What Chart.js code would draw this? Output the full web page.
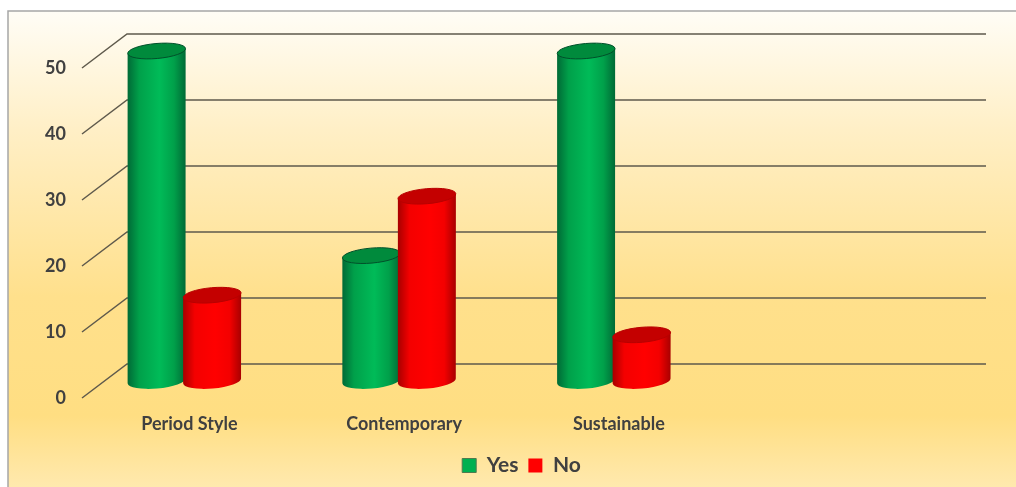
<!DOCTYPE html>
<html>
<head>
<meta charset="utf-8">
<style>
	html, body { margin: 0; padding: 0; background: #fff; overflow: hidden; }
	canvas { display: block; filter: blur(0.6px); }
</style>
<script src="https://cdn.jsdelivr.net/npm/chart.js@4/dist/chart.umd.min.js"></script>
</head>
<body>
<canvas id="chart" width="1016" height="487"></canvas>
<script>
const categories = ["Period Style", "Contemporary", "Sustainable", ""];
const yesValues = [50, 19, 50, null];
const noValues = [13, 28, 7, null];

const yesColors = { edge: "#006a36", body: "#00a04a", mid: "#00bb58", cap: "#008a3c", line: "#00502a" };
const noColors = { edge: "#a80000", body: "#f40000", mid: "#ff0000", cap: "#c40000", line: "#b80000" };

// depth of the fake 3D box, front plane is what the scales give
const backOffset = { x: 45, y: -34 };
const barOffset = { x: -5, y: -17 };

function drawCylinder(ctx, bar, colors) {
	const width = bar.width + 2.5;
	const x = bar.x + barOffset.x;
	const top = bar.y + barOffset.y;
	const bottom = bar.base + barOffset.y;
	const rx = width / 2;
	const ry = 7.5;
	const tilt = -5 * Math.PI / 180;
	const dy = Math.sin(tilt) * rx;
	const gradient = ctx.createLinearGradient(x - rx, 0, x + rx, 0);
	gradient.addColorStop(0, colors.edge);
	gradient.addColorStop(0.2, colors.body);
	gradient.addColorStop(0.55, colors.mid);
	gradient.addColorStop(0.8, colors.body);
	gradient.addColorStop(1, colors.edge);
	ctx.save();
	ctx.beginPath();
	ctx.moveTo(x - rx, top - dy);
	ctx.lineTo(x - rx, bottom - dy);
	ctx.ellipse(x, bottom, rx, ry, tilt, Math.PI, 0, true);
	ctx.lineTo(x + rx, top + dy);
	ctx.closePath();
	ctx.fillStyle = gradient;
	ctx.fill();
	ctx.beginPath();
	ctx.ellipse(x, top, rx, ry, tilt, 0, Math.PI * 2);
	ctx.fillStyle = colors.cap;
	ctx.fill();
	ctx.strokeStyle = colors.line;
	ctx.lineWidth = 1;
	ctx.stroke();
	ctx.restore();
}

const boxPlugin = {
	id: "box",
	beforeDraw(chart) {
		const ctx = chart.ctx;
		const gradient = ctx.createLinearGradient(0, 11, 0, 487);
		gradient.addColorStop(0, "#fffdf6");
		gradient.addColorStop(0.25, "#ffefc6");
		gradient.addColorStop(0.6, "#ffe08c");
		gradient.addColorStop(0.85, "#ffde82");
		gradient.addColorStop(1, "#ffe9ae");
		ctx.save();
		ctx.fillStyle = gradient;
		ctx.fillRect(8, 11, 1008, 476);
		ctx.strokeStyle = "#a6a6a6";
		ctx.lineWidth = 1.5;
		ctx.beginPath();
		ctx.moveTo(8, 487);
		ctx.lineTo(8, 11);
		ctx.lineTo(1016, 11);
		ctx.stroke();
		ctx.restore();
	},
	afterLayout(chart) {
		// legend sits a bit right of the plot centre in the reference
		chart.legend.left += 37;
		chart.legend.right += 37;
	},
	beforeDatasetsDraw(chart) {
		const ctx = chart.ctx;
		const area = chart.chartArea;
		const scale = chart.scales.y;
		ctx.save();
		ctx.strokeStyle = "#5f5a4c";
		ctx.lineWidth = 1.5;
		for (const tick of scale.ticks) {
			const y = scale.getPixelForValue(tick.value);
			ctx.beginPath();
			ctx.moveTo(area.left, y);
			ctx.lineTo(area.left + backOffset.x, y + backOffset.y);
			ctx.lineTo(area.right + backOffset.x, y + backOffset.y);
			ctx.stroke();
		}
		ctx.restore();
	},
	beforeDatasetDraw() {
		return false;
	},
	afterDatasetsDraw(chart) {
		const ctx = chart.ctx;
		const palettes = [yesColors, noColors];
		palettes.forEach((colors, index) => {
			const values = chart.data.datasets[index].data;
			chart.getDatasetMeta(index).data.forEach((bar, i) => {
				if (values[i] !== null) {
					drawCylinder(ctx, bar, colors);
				}
			});
		});
	}
};

const options = {
	type: "bar",
	data: {
		labels: categories,
		datasets: [
			{ label: "Yes", data: yesValues, backgroundColor: "#00b050", borderColor: "#4f7a4f", borderWidth: 1 },
			{ label: "No", data: noValues, backgroundColor: "#ff0000", borderColor: "#ff0000", borderWidth: 0 }
		]
	},
	options: {
		responsive: false,
		animation: false,
		layout: {
			padding: { left: 28, right: 75, top: 68, bottom: 1 }
		},
		datasets: {
			bar: { categoryPercentage: 0.517, barPercentage: 1 }
		},
		scales: {
			x: {
				grid: { display: false },
				border: { display: false },
				ticks: {
					color: "#404040",
					font: { family: "Lato", size: 18, weight: "bold" },
					padding: 7,
					maxRotation: 0
				},
				afterFit: scale => { scale.height = 47; }
			},
			y: {
				min: 0,
				max: 50,
				grid: { display: false, drawTicks: false },
				border: { display: false },
				ticks: {
					stepSize: 10,
					color: "#404040",
					font: { family: "Lato", size: 18, weight: "bold" },
					padding: 16
				},
				afterFit: scale => { scale.width = 54; }
			}
		},
		plugins: {
			tooltip: { enabled: false },
			legend: {
				position: "bottom",
				labels: {
					boxWidth: 14,
					boxHeight: 14,
					padding: 10,
					color: "#404040",
					font: { family: "Lato", size: 21, weight: "bold" }
				}
			}
		}
	},
	plugins: [boxPlugin]
};

new Chart(document.getElementById("chart").getContext("2d"), options);
</script>
</body>
</html>
